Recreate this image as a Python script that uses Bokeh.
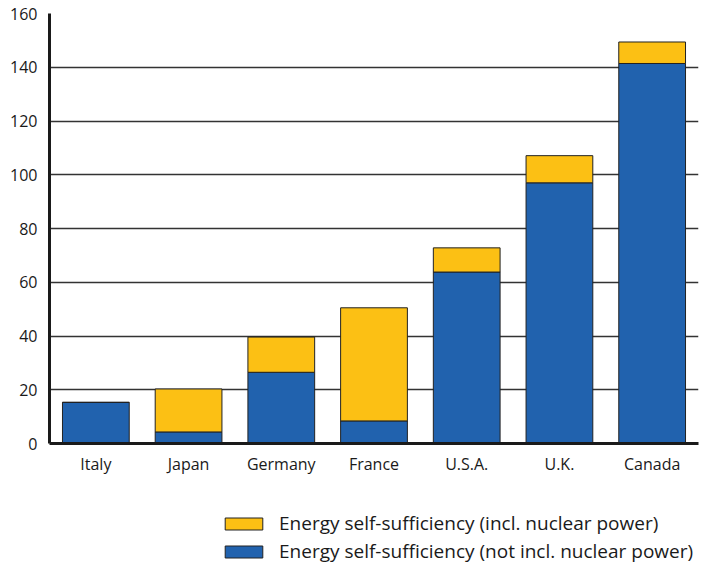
from bokeh.plotting import figure
from bokeh.layouts import column
from bokeh.models import Legend, LegendItem, FixedTicker, ColumnDataSource, Range1d
from bokeh.embed import file_html
from bokeh.resources import INLINE

countries = ["Italy", "Japan", "Germany", "France", "U.S.A.", "U.K.", "Canada"]
not_incl_nuclear = [15.3, 4.3, 26.5, 8.4, 63.8, 97.0, 141.4]
incl_nuclear = [15.3, 20.3, 39.6, 50.5, 72.8, 107.1, 149.4]
y_ticks = [0, 20, 40, 60, 80, 100, 120, 140, 160]
label_incl = "Energy self-sufficiency (incl. nuclear power)"
label_not = "Energy self-sufficiency (not incl. nuclear power)"

BLUE = "#2162ae"
YELLOW = "#fcc014"
FONT = "Open Sans"

src = ColumnDataSource(dict(c=countries, blue=not_incl_nuclear, total=incl_nuclear))

chart = figure(x_range=countries, y_range=(0, 160), output_backend="svg",
               toolbar_location=None,
               frame_width=649, frame_height=430,
               min_border_left=49, min_border_top=13, min_border_right=2,
               min_border_bottom=38)
chart.x_range.range_padding = 0.0
chart.outline_line_color = None
chart.background_fill_color = "white"

bar_style = dict(width=0.72, line_color="#222222", line_width=1)
r_blue = chart.vbar(x="c", top="blue", bottom=0, source=src,
                    fill_color=BLUE, **bar_style)
r_yellow = chart.vbar(x="c", top="total", bottom="blue", source=src,
                      fill_color=YELLOW, **bar_style)

chart.xgrid.grid_line_color = None
chart.ygrid.grid_line_color = "#333333"
chart.ygrid.grid_line_width = 1.5
chart.yaxis.ticker = FixedTicker(ticks=y_ticks)

for ax in (chart.xaxis, chart.yaxis):
    ax.axis_line_color = "#1a1a1a"
    ax.axis_line_width = 3
    ax.major_tick_line_color = None
    ax.minor_tick_line_color = None
    ax.major_label_text_font = FONT
    ax.major_label_text_font_size = "16px"
    ax.major_label_text_color = "#1a1a1a"
chart.xaxis.major_label_standoff = 3
chart.yaxis.major_label_standoff = 6

# Legend-only figure placed under the chart (its frame aligns with the chart's frame)
leg_fig = figure(width=700, height=83, output_backend="svg", toolbar_location=None,
                 x_axis_type=None, y_axis_type=None,
                 x_range=Range1d(0, 1), y_range=Range1d(0, 1),
                 min_border=0, min_border_left=0, min_border_right=0,
                 min_border_top=0, min_border_bottom=0)
leg_fig.outline_line_color = None
leg_fig.xgrid.grid_line_color = None
leg_fig.ygrid.grid_line_color = None
# legend swatches need one (off-screen) item to take their style from
swatch = ColumnDataSource(dict(x=[-100], top=[-100], bottom=[-101]))
d_yellow = leg_fig.vbar(x="x", top="top", bottom="bottom", source=swatch,
                        fill_color=YELLOW, width=0.1, line_color="#222222", line_width=1)
d_blue = leg_fig.vbar(x="x", top="top", bottom="bottom", source=swatch,
                      fill_color=BLUE, width=0.1, line_color="#222222", line_width=1)

legend = Legend(items=[LegendItem(label=label_incl, renderers=[d_yellow]),
                       LegendItem(label=label_not, renderers=[d_blue])],
                location=(171, 0), orientation="vertical",
                glyph_width=47, glyph_height=15, label_height=18,
                label_standoff=12, spacing=2, padding=0, margin=0,
                border_line_color=None, background_fill_alpha=0,
                label_text_font=FONT, label_text_font_size="19px",
                label_text_color="#1a1a1a")
leg_fig.add_layout(legend, "center")

p = column(chart, leg_fig, spacing=0)

open("out.html", "w").write(file_html(p, INLINE))
